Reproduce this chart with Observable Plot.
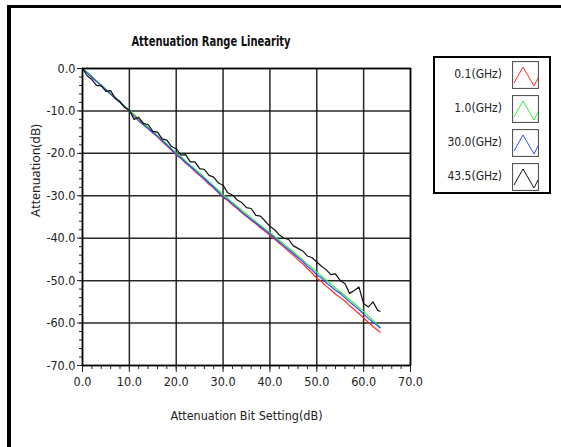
<!DOCTYPE html>
<html>
<head>
<meta charset="utf-8">
<script src="https://cdn.jsdelivr.net/npm/d3@7"></script>
<script src="https://cdn.jsdelivr.net/npm/@observablehq/plot@0.6"></script>
<style>
  html, body { margin: 0; padding: 0; background: #fff; }
  #wrap { position: relative; width: 561px; height: 447px; overflow: hidden; background: #fff; }
  #wrap svg.plot { position: absolute; left: 0; top: 0; }
  .border-top { position: absolute; left: 7px; top: 5px; width: 554px; height: 3px; background: #000; }
  .border-left { position: absolute; left: 7px; top: 5px; width: 4px; height: 442px; background: #000; }
  #title { position: absolute; left: 0; width: 422px; top: 33px; text-align: center;
    transform: scaleX(0.82); transform-origin: 211px 50%;
    font-family: "DejaVu Sans Condensed", "DejaVu Sans", sans-serif; font-stretch: condensed; font-weight: bold; font-size: 13.5px; color: #111; }
  #legend { position: absolute; left: 433px; top: 56px; width: 114px; height: 134px; border: 2px solid #000; background: #fff; }
  .lrow { position: absolute; left: 0; width: 114px; height: 28px; }
  .lrow span { position: absolute; right: 47px; top: 6px; font-family: "DejaVu Sans Condensed", "DejaVu Sans", sans-serif; font-stretch: condensed; font-size: 12px; color: #222; }
  .lrow svg { position: absolute; left: 77px; top: 0; }
  svg.plot text { font-stretch: condensed; }
</style>
</head>
<body>
<div id="wrap">
  <div class="border-top"></div>
  <div class="border-left"></div>
  <div id="title">Attenuation Range Linearity</div>
  <div id="legend"></div>
</div>
<script>
// Attenuation bit setting (dB)
const setting = [0,1,2,3,4,5,6,7,8,9,10,11,12,13,14,15,16,17,18,19,20,21,22,23,24,25,26,27,28,29,30,31,32,33,34,35,36,37,38,39,40,41,42,43,44,45,46,47,48,49,50,51,52,53,54,55,56,57,58,59,60,61,62,63,63.5];

const att_0_1 = [0,-1.0,-2.1,-3.0,-4.1,-5.1,-6.0,-7.1,-8.0,-9.1,-10.0,-11.0,-12.1,-13.0,-14.1,-15.2,-16.1,-17.2,-18.2,-19.3,-20.4,-21.2,-22.3,-23.2,-24.3,-25.2,-26.2,-27.3,-28.2,-29.3,-30.4,-31.1,-32.1,-33.0,-34.0,-34.9,-35.8,-36.6,-37.6,-38.4,-39.3,-40.2,-41.2,-42.1,-43.1,-44.0,-45.1,-46.0,-47.2,-48.2,-49.4,-50.2,-51.3,-52.2,-53.2,-54.0,-54.8,-55.9,-56.8,-57.8,-58.8,-59.8,-60.8,-61.7,-62.2];

const att_1_0 = [0,-0.9,-1.9,-2.9,-3.9,-4.9,-5.8,-6.8,-7.8,-8.8,-9.8,-10.8,-11.8,-12.8,-13.8,-14.8,-15.8,-16.8,-17.8,-18.9,-19.9,-20.8,-21.8,-22.8,-23.7,-24.7,-25.7,-26.7,-27.7,-28.7,-29.8,-30.6,-31.6,-32.5,-33.4,-34.3,-35.2,-36.1,-37.0,-37.9,-38.7,-39.6,-40.5,-41.4,-42.3,-43.2,-44.2,-45.1,-46.1,-47.0,-48.0,-48.9,-49.9,-50.8,-51.8,-52.6,-53.5,-54.5,-55.4,-56.3,-57.3,-58.3,-59.3,-60.5,-61.0];

const att_30_0 = [0,-1.1,-2.0,-3.1,-4.0,-5.0,-6.1,-7.0,-8.0,-9.0,-10.1,-11.3,-12.4,-13.3,-14.2,-15.1,-16.0,-17.0,-18.1,-19.1,-20.2,-21.1,-22.1,-23.1,-24.0,-25.0,-26.0,-27.0,-28.0,-29.1,-30.2,-30.9,-31.9,-32.8,-33.8,-34.7,-35.6,-36.4,-37.3,-38.2,-39.0,-39.9,-40.9,-41.8,-42.7,-43.6,-44.6,-45.5,-46.6,-47.5,-48.6,-49.4,-50.5,-51.4,-52.3,-53.0,-54.0,-55.0,-55.9,-56.8,-57.9,-58.9,-59.8,-60.6,-61.1];

const att_43_5 = [0,-1.7,-2.6,-4.0,-4.1,-5.4,-5.2,-7.0,-7.8,-9.2,-9.8,-12.0,-11.5,-13.0,-13.2,-14.8,-15.0,-16.6,-16.9,-18.4,-18.9,-20.4,-20.3,-22.0,-22.0,-23.6,-23.8,-25.2,-25.6,-27.0,-27.5,-29.3,-29.8,-31.0,-31.6,-32.8,-33.0,-34.6,-34.8,-36.0,-37.2,-38.0,-39.2,-40.0,-40.3,-41.8,-42.4,-43.0,-44.2,-44.6,-45.6,-46.6,-47.4,-48.6,-48.4,-50.0,-50.7,-53.0,-52.3,-51.5,-55.4,-56.2,-55.0,-57.0,-57.2];

const seriesNames = ["0.1(GHz)", "1.0(GHz)", "30.0(GHz)", "43.5(GHz)"];
const seriesColors = ["#ff2a2a", "#33ee33", "#2e4bff", "#111111"];
const seriesValues = [att_0_1, att_1_0, att_30_0, att_43_5];

const xTicks = [0,10,20,30,40,50,60,70];
const yTicks = [0,-10,-20,-30,-40,-50,-60,-70];

const rows = [];
seriesValues.forEach((vals, s) => {
  vals.forEach((v, i) => rows.push({series: seriesNames[s], x: setting[i], y: v}));
});

const fmt = d => d.toFixed(1);
const narrow = '"DejaVu Sans Condensed", "DejaVu Sans", sans-serif';

const chart = Plot.plot({
  width: 561,
  height: 447,
  marginLeft: 82,
  marginRight: 151,
  marginTop: 68,
  marginBottom: 82,
  style: {fontFamily: narrow, fontSize: "12.5px", color: "#222", background: "transparent"},
  x: {domain: [0, 70]},
  y: {domain: [-70, 0]},
  color: {domain: seriesNames, range: seriesColors},
  marks: [
    Plot.gridX(xTicks, {stroke: "#111", strokeOpacity: 0.9, strokeWidth: 1.5}),
    Plot.gridY(yTicks, {stroke: "#111", strokeOpacity: 0.9, strokeWidth: 1.5}),
    Plot.axisX(d3.range(0, 71, 2), {tickSize: 4, text: null, label: null, stroke: "#222"}),
    Plot.axisY(d3.range(-70, 1, 2), {tickSize: 3, text: null, label: null, stroke: "#222"}),
    Plot.axisX(xTicks, {tickSize: 7, tickPadding: 5, tickFormat: fmt, stroke: "#222",
      label: "Attenuation Bit Setting(dB)", labelAnchor: "center", labelArrow: "none", labelOffset: 54}),
    Plot.axisY(yTicks, {tickSize: 5, tickPadding: 2, tickFormat: fmt, stroke: "#222", label: null}),
    Plot.text(["Attenuation(dB)"], {frameAnchor: "left", dx: -47, rotate: -90, fontFamily: "Noto Sans, sans-serif", fontSize: 12.5, fill: "#222"}),
    Plot.line(rows, {x: "x", y: "y", z: "series", stroke: "series", strokeWidth: 1.2}),
    Plot.frame({stroke: "#000", strokeWidth: 1.5})
  ]
});
chart.classList.add("plot");
document.getElementById("wrap").insertBefore(chart, document.getElementById("wrap").firstChild);

// Legend
const legend = document.getElementById("legend");
const rowTops = [3, 37, 71, 105];
seriesNames.forEach((name, i) => {
  const row = document.createElement("div");
  row.className = "lrow";
  row.style.top = rowTops[i] + "px";
  row.innerHTML = `<span>${name}</span>
    <svg width="27" height="28"><rect x="0.5" y="0.5" width="26" height="27" fill="#fff" stroke="#555" stroke-width="1.2"/>
    <polyline points="2,22 11,6 22,25 26,17" fill="none" stroke="${seriesColors[i]}" stroke-width="1"/></svg>`;
  legend.appendChild(row);
});
</script>
</body>
</html>
